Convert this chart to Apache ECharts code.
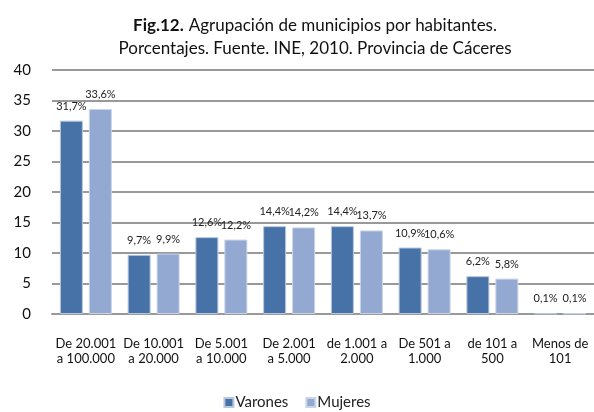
<!DOCTYPE html>
<html>
<head>
<meta charset="utf-8">
<script src="https://cdn.jsdelivr.net/npm/echarts@6/dist/echarts.min.js"></script>
<style>
  html, body { margin: 0; padding: 0; background: #fff; }
  #chart { width: 594px; height: 412px; }
</style>
</head>
<body>
<div id="chart"></div>
<script>
const categories = [
  'De 20.001\na 100.000', 'De 10.001\na 20.000', 'De 5.001\na 10.000', 'De 2.001\na 5.000',
  'de 1.001 a\n2.000', 'De 501 a\n1.000', 'de 101 a\n500', 'Menos de\n101'
];
const varones = [31.7, 9.7, 12.6, 14.4, 14.4, 10.9, 6.2, 0.1];
const mujeres = [33.6, 9.9, 12.2, 14.2, 13.7, 10.6, 5.8, 0.1];

const FONT = 'Lato, "Open Sans", sans-serif';

const chart = echarts.init(document.getElementById('chart'));

function label() {
  return {
    show: true,
    position: 'top',
    distance: 9,
    fontFamily: FONT,
    fontSize: 11,
    color: '#222',
    formatter: p => p.value.toFixed(1).replace('.', ',') + '%'
  };
}

chart.setOption({
  backgroundColor: '#fff',
  animation: false,
  title: {
    left: 310,
    textAlign: 'center',
    top: 9,
    text: '{b|Fig.12.} {n|Agrupación de municipios por habitantes.}\n{n|Porcentajes. Fuente. INE, 2010. Provincia de Cáceres}',
    textStyle: {
      fontWeight: 'normal',
      rich: {
        b: { fontFamily: FONT, fontSize: 17, fontWeight: 'bold', color: '#111', lineHeight: 23 },
        n: { fontFamily: FONT, fontSize: 17, fontWeight: 'normal', color: '#111', lineHeight: 23 }
      }
    }
  },
  legend: {
    bottom: -3,
    left: 'center',
    itemWidth: 9,
    itemHeight: 9,
    itemGap: 17,
    icon: 'rect',
    textStyle: { fontFamily: FONT, fontSize: 15, color: '#222', padding: [0, 0, 0, -3] },
    data: ['Varones', 'Mujeres']
  },
  grid: { left: 52, right: 0, top: 70, bottom: 98 },
  xAxis: {
    type: 'category',
    data: categories,
    axisLine: { lineStyle: { color: '#999', width: 2 } },
    axisTick: { show: false },
    axisLabel: { fontFamily: FONT, fontSize: 13, color: '#111', lineHeight: 15, margin: 22, interval: 0 }
  },
  yAxis: {
    type: 'value',
    min: 0,
    max: 40,
    interval: 5,
    axisLine: { show: false },
    axisTick: { show: false },
    axisLabel: { fontFamily: FONT, fontSize: 15, color: '#111', margin: 21 },
    splitLine: { lineStyle: { color: '#999', width: 2 } }
  },
  series: [
    {
      name: 'Varones',
      type: 'bar',
      data: varones,
      barWidth: 23,
      barGap: '26%',
      itemStyle: { color: '#4672a8', borderColor: '#b9c7dd', borderWidth: 1 },
      label: label()
    },
    {
      name: 'Mujeres',
      type: 'bar',
      data: mujeres,
      barWidth: 23,
      itemStyle: { color: '#93a9d1', borderColor: '#c9d4e8', borderWidth: 1 },
      label: label()
    }
  ]
});
</script>
</body>
</html>
